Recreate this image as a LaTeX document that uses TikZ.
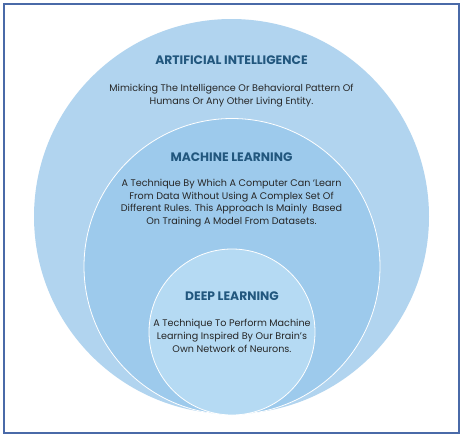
\documentclass[tikz,border=0pt]{standalone}
\usepackage{fontspec}
\setmainfont{Poppins}
\definecolor{aiblue}{HTML}{B1D4EF}
\definecolor{mlblue}{HTML}{9DCAEC}
\definecolor{dlblue}{HTML}{B5DAF3}
\definecolor{titleblue}{HTML}{22577E}
\definecolor{bodygray}{HTML}{262626}
\definecolor{framecol}{HTML}{4A6AA8}
\begin{document}
\begin{tikzpicture}[x=1pt,y=-1pt,
  ring/.style={circle,inner sep=0pt,draw=white,line width=0.8pt},
  ttl/.style={font=\fontsize{12.3}{14}\selectfont\bfseries,text=titleblue,inner sep=0pt},
  body/.style={font=\fontsize{9.6}{12.7}\selectfont,text=bodygray,align=center,inner sep=0pt}]
\useasboundingbox (0,0) rectangle (464,437);
\fill[white] (0,0) rectangle (464,437);
\node[draw=framecol,line width=1.3pt,minimum width=455pt,minimum height=429pt,inner sep=0pt] (frame) at (231.5,218.5) {};
\node[ring,fill=aiblue,draw=none,minimum size=395pt] (ai) at (231.5,216.5) {};
\node[ring,fill=mlblue,minimum size=296pt] (ml) at (232,266.5) {};
\node[ring,fill=dlblue,minimum size=166pt] (dl) at (232,332) {};
\node[ttl] (aititle) at (231.5,60) {ARTIFICIAL INTELLIGENCE};
\node[body] (aitext) at (231.5,95.5) {Mimicking The Intelligence Or Behavioral Pattern Of\\Humans Or Any Other Living Entity.};
\node[ttl] (mltitle) at (231.5,157) {MACHINE LEARNING};
\node[body] (mltext) at (231.5,203) {A Technique By Which A Computer Can `Learn\\From Data Without Using A Complex Set Of\\Different Rules. This Approach Is Mainly\ \ Based\\On Training A Model From Datasets.};
\node[ttl] (dltitle) at (232,296) {DEEP LEARNING};
\node[body] (dltext) at (232,336) {A Technique To Perform Machine\\Learning Inspired By Our Brain's\\Own Network of Neurons.};
\end{tikzpicture}
\end{document}
